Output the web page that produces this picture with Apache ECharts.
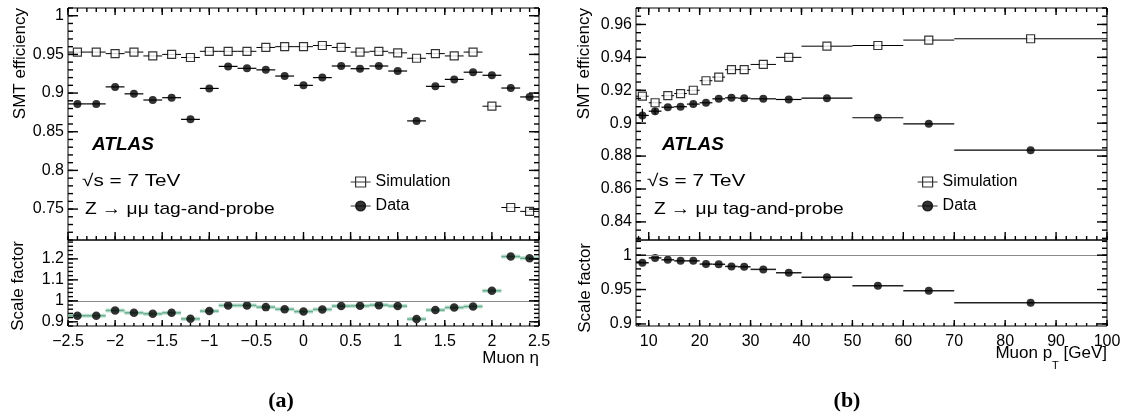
<!DOCTYPE html>
<html>
<head>
<meta charset="utf-8">
<script src="https://cdn.jsdelivr.net/npm/echarts@6/dist/echarts.min.js"></script>
<style>
html, body { margin: 0; padding: 0; background: #fff; }
#main { width: 1126px; height: 417px; }
</style>
</head>
<body>
<div id="main"></div>
<script>
var FONT = '"Liberation Sans", Arial, Helvetica, sans-serif';

// bin edges
var etaEdges = [-2.5, -2.3, -2.1, -1.9, -1.7, -1.5, -1.3, -1.1, -0.9, -0.7, -0.5, -0.3, -0.1,
  0.1, 0.3, 0.5, 0.7, 0.9, 1.1, 1.3, 1.5, 1.7, 1.9, 2.1, 2.3, 2.5];
var ptEdges = [7.5, 10, 12.5, 15, 17.5, 20, 22.5, 25, 27.5, 30, 35, 40, 50, 60, 70, 100];

// (a) SMT efficiency vs muon eta
var etaSim = [0.953, 0.953, 0.951, 0.953, 0.948, 0.950, 0.946, 0.954, 0.954, 0.954, 0.959,
  0.960, 0.960, 0.9615, 0.959, 0.953, 0.954, 0.952, 0.945, 0.951, 0.948, 0.953, 0.883, 0.752, 0.747];
var etaData = [0.886, 0.886, 0.908, 0.899, 0.891, 0.894, 0.866, 0.906, 0.9345, 0.932, 0.930,
  0.922, 0.910, 0.920, 0.935, 0.9315, 0.935, 0.9285, 0.864, 0.9087, 0.9177, 0.927, 0.923, 0.9065, 0.895];
var etaSF = [0.929, 0.929, 0.954, 0.943, 0.938, 0.943, 0.914, 0.951, 0.978, 0.978, 0.970,
  0.960, 0.949, 0.959, 0.975, 0.976, 0.9795, 0.975, 0.913, 0.956, 0.968, 0.973, 1.048, 1.211, 1.203];

// (b) SMT efficiency vs muon pT
var ptSim = [0.9164, 0.9124, 0.9167, 0.918, 0.920, 0.9258, 0.928, 0.9325, 0.9326, 0.9357,
  0.940, 0.9468, 0.9472, 0.9505, 0.9513];
var ptData = [0.9047, 0.9073, 0.9097, 0.910, 0.9116, 0.9124, 0.9148, 0.9154, 0.9152, 0.9148,
  0.9144, 0.9152, 0.9033, 0.8996, 0.8836];
var ptDataErr = [0.004, 0.002, 0, 0, 0, 0, 0, 0, 0, 0, 0, 0, 0, 0, 0];
var ptSF = [0.9889, 0.996, 0.9932, 0.9917, 0.9917, 0.987, 0.9867, 0.9836, 0.9831, 0.9793,
  0.9744, 0.968, 0.9555, 0.9483, 0.9309];

// tick labels
var etaTicks = [-2.5, -2, -1.5, -1, -0.5, 0, 0.5, 1, 1.5, 2, 2.5];
var ptTicks = [10, 20, 30, 40, 50, 60, 70, 80, 90, 100];
var effTicksA = [0.75, 0.8, 0.85, 0.9, 0.95, 1];
var sfTicksA = [0.9, 1, 1.1, 1.2];
var effTicksB = [0.84, 0.86, 0.88, 0.9, 0.92, 0.94, 0.96];
var sfTicksB = [0.9, 0.95, 1];

function steps(a, b, d) {
  var out = [];
  for (var i = 0; a + i * d <= b + 1e-9; i++) out.push(+(a + i * d).toFixed(4));
  return out;
}
function centers(edges) {
  var c = [];
  for (var i = 0; i < edges.length - 1; i++) c.push((edges[i] + edges[i + 1]) / 2);
  return c;
}
function rows(edges, vals, errs) {
  return vals.map(function (v, i) { return [edges[i], edges[i + 1], v, errs ? errs[i] : 0]; });
}
function points(edges, vals) {
  var c = centers(edges);
  return vals.map(function (v, i) { return [c[i], v]; });
}

var grids = [], xAxes = [], yAxes = [];

function panel(box, xr, yr, xTicks, yTicks, xFmt) {
  grids.push(Object.assign({ show: true, borderColor: '#000', borderWidth: 1, backgroundColor: 'transparent', outerBoundsMode: 'none' }, box));
  var g = grids.length - 1;
  xAxes.push({
    type: 'value', gridIndex: g, position: 'bottom', min: xr[0], max: xr[1],
    axisLine: { show: false }, axisTick: { show: false }, splitLine: { show: false },
    axisLabel: xFmt ? { show: true, customValues: xTicks, margin: 8, color: '#000', fontSize: 16, fontFamily: FONT, formatter: xFmt } : { show: false }
  });
  yAxes.push({
    type: 'value', gridIndex: g, position: 'left', min: yr[0], max: yr[1],
    axisLine: { show: false }, axisTick: { show: false }, splitLine: { show: false },
    axisLabel: { show: true, customValues: yTicks, margin: 4, color: '#000', fontSize: 16, fontFamily: FONT }
  });
  return { x: xAxes.length - 1, y: yAxes.length - 1, xr: xr, yr: yr };
}

var minus = function (v) { return String(v).replace('-', '\u2212'); };
var plain = function (v) { return String(v); };

var pA = panel({ left: 68, top: 8, width: 471, height: 232 }, [-2.5, 2.5], [0.71, 1.01], etaTicks, effTicksA, null);
var pAr = panel({ left: 68, top: 240, width: 471, height: 86 }, [-2.5, 2.5], [0.88, 1.29], etaTicks, sfTicksA, minus);
var pB = panel({ left: 636, top: 8, width: 471, height: 232 }, [7.5, 100], [0.829, 0.970], ptTicks, effTicksB, null);
var pBr = panel({ left: 636, top: 240, width: 471, height: 86 }, [7.5, 100], [0.897, 1.022], ptTicks, sfTicksB, plain);

var tickSets = [
  { p: pA, yMaj: effTicksA, yMin: steps(0.71, 1.01, 0.01), xMaj: etaTicks, xMin: steps(-2.5, 2.5, 0.1), xl: [8, 7, 4, 4] },
  { p: pAr, yMaj: sfTicksA, yMin: steps(0.88, 1.28, 0.02), xMaj: etaTicks, xMin: steps(-2.5, 2.5, 0.1), xl: [6, 0, 3, 0] },
  { p: pB, yMaj: effTicksB, yMin: steps(0.83, 0.97, 0.005), xMaj: ptTicks, xMin: steps(8, 100, 2), xl: [8, 7, 4, 4] },
  { p: pBr, yMaj: sfTicksB, yMin: steps(0.9, 1.02, 0.01), xMaj: ptTicks, xMin: steps(8, 100, 2), xl: [6, 0, 3, 0] }
];

function hbar(color, width) {
  return function (params, api) {
    var y = api.value(2), lo = api.value(0), hi = api.value(1), e = api.value(3);
    var p1 = api.coord([lo, y]), p2 = api.coord([hi, y]);
    var kids = [{ type: 'line', shape: { x1: p1[0], y1: p1[1], x2: p2[0], y2: p2[1] }, style: { stroke: color, lineWidth: width } }];
    if (e > 0) {
      var a = api.coord([(lo + hi) / 2, y - e]), b = api.coord([(lo + hi) / 2, y + e]);
      kids.push({ type: 'line', shape: { x1: a[0], y1: a[1], x2: b[0], y2: b[1] }, style: { stroke: color, lineWidth: width } });
    }
    return { type: 'group', children: kids };
  };
}
function band(params, api) {
  var y = api.value(2);
  var p1 = api.coord([api.value(0), y]), p2 = api.coord([api.value(1), y]);
  return { type: 'group', children: [
    { type: 'rect', shape: { x: p1[0], y: p1[1] - 2, width: p2[0] - p1[0], height: 4 }, style: { fill: 'rgba(130,195,165,0.5)' } },
    { type: 'line', shape: { x1: p1[0], y1: p1[1], x2: p2[0], y2: p2[1] }, style: { stroke: '#6aae90', lineWidth: 1.5 } }
  ] };
}
function bars(p, data, render) {
  return { type: 'custom', xAxisIndex: p.x, yAxisIndex: p.y, data: data, renderItem: render,
    encode: { x: [0, 1], y: 2 }, clip: true, silent: true, z: 2 };
}
function marks(p, name, data, sim, size) {
  return { type: 'scatter', name: name, xAxisIndex: p.x, yAxisIndex: p.y, data: data, z: 3, silent: true,
    symbol: sim ? 'rect' : 'circle', symbolSize: size,
    itemStyle: sim ? { color: '#fff', borderColor: '#000', borderWidth: 1.2 } : { color: '#000' } };
}
function unity(s) {
  s.markLine = { silent: true, symbol: ['none', 'none'], label: { show: false },
    lineStyle: { color: '#8a8a8a', width: 1.2, type: 'solid' }, data: [{ yAxis: 1 }] };
  return s;
}

// ROOT-style inward tick marks, one custom series per panel, drawn as rects through the panel's axes
// row: [value, isY, lengthNear, lengthFar]
function tickSeries(t) {
  var p = t.p, data = [];
  t.yMaj.forEach(function (v) { data.push([v, 1, 10, 10]); });
  t.yMin.forEach(function (v) { data.push([v, 1, 5, 5]); });
  t.xMaj.forEach(function (v) { data.push([v, 0, t.xl[0], t.xl[1]]); });
  t.xMin.forEach(function (v) { data.push([v, 0, t.xl[2], t.xl[3]]); });
  return {
    type: 'custom', xAxisIndex: p.x, yAxisIndex: p.y, data: data, clip: false, silent: true, z: 6,
    dimensions: ['v', 'isY', 'ln', 'lf'], encode: { x: 'v', y: 'isY' },
    renderItem: function (params, api) {
      var v = api.value('v'), ln = api.value('ln'), lf = api.value('lf'), kids = [], a, b;
      if (api.value('isY') > 0.5) {
        a = api.coord([p.xr[0], v]); b = api.coord([p.xr[1], v]);
        kids.push({ type: 'rect', shape: { x: a[0], y: a[1] - 0.7, width: ln, height: 1.4 } });
        kids.push({ type: 'rect', shape: { x: b[0] - lf, y: b[1] - 0.7, width: lf, height: 1.4 } });
      } else {
        a = api.coord([v, p.yr[0]]); b = api.coord([v, p.yr[1]]);
        kids.push({ type: 'rect', shape: { x: a[0] - 0.7, y: a[1] - ln, width: 1.4, height: ln } });
        if (lf > 0) kids.push({ type: 'rect', shape: { x: b[0] - 0.7, y: b[1], width: 1.4, height: lf } });
      }
      kids.forEach(function (k) { k.style = { fill: '#000' }; });
      return { type: 'group', children: kids };
    }
  };
}

var series = tickSets.map(tickSeries).concat([
  bars(pA, rows(etaEdges, etaSim), hbar('#000', 1)),
  bars(pA, rows(etaEdges, etaData), hbar('#000', 1.2)),
  marks(pA, 'Simulation', points(etaEdges, etaSim), true, 8),
  marks(pA, 'Data', points(etaEdges, etaData), false, 8),
  bars(pAr, rows(etaEdges, etaSF), band),
  unity(marks(pAr, 'SF eta', points(etaEdges, etaSF), false, 8.5)),
  bars(pB, rows(ptEdges, ptSim), hbar('#000', 1)),
  bars(pB, rows(ptEdges, ptData, ptDataErr), hbar('#000', 1.2)),
  marks(pB, 'Simulation', points(ptEdges, ptSim), true, 8),
  marks(pB, 'Data', points(ptEdges, ptData), false, 8),
  bars(pBr, rows(ptEdges, ptSF), hbar('#222', 1.5)),
  unity(marks(pBr, 'SF pt', points(ptEdges, ptSF), false, 8))
]);

var simIcon = 'path://M0,5L20,5M5,0L15,0L15,10L5,10Z';
var dataIcon = 'path://M0,5L20,5M15,5A5,5,0,1,1,5,5A5,5,0,1,1,15,5Z';
function legendAt(left) {
  return {
    left: left, top: 168, orient: 'vertical', itemWidth: 20, itemHeight: 10, itemGap: 6,
    selectedMode: false,
    textStyle: { color: '#000', fontSize: 16, fontFamily: FONT, lineHeight: 18 },
    data: [
      { name: 'Simulation', icon: simIcon, itemStyle: { color: '#fff', borderColor: '#000', borderWidth: 1.2 } },
      { name: 'Data', icon: dataIcon, itemStyle: { color: '#000', borderColor: '#000', borderWidth: 1.2 } }
    ]
  };
}

function txt(x, y, s, style, extra) {
  return Object.assign({ type: 'text', x: x, y: y, silent: true,
    style: Object.assign({ text: s, fill: '#000', fontFamily: FONT, fontSize: 17, textVerticalAlign: 'middle' }, style || {}) }, extra || {});
}
var atlas = { fontSize: 19, fontWeight: 'bold', fontStyle: 'italic' };
var vert = { rotation: Math.PI / 2 };
var serif = { textAlign: 'center', fontFamily: '"Liberation Serif", "Times New Roman", serif', fontWeight: 'bold', fontSize: 22 };
var graphic = [
  txt(92, 145, 'ATLAS', atlas),
  txt(82, 181, '\u221As = 7 TeV', null, { scaleX: 1.22 }),
  txt(85, 209, 'Z \u2192 \u03bc\u03bc tag-and-probe', null, { scaleX: 1.13 }),
  txt(662, 145, 'ATLAS', atlas),
  txt(647, 181, '\u221As = 7 TeV', null, { scaleX: 1.22 }),
  txt(654, 209, 'Z \u2192 \u03bc\u03bc tag-and-probe', null, { scaleX: 1.13 }),
  txt(20, 8, 'SMT efficiency', { textAlign: 'right' }, vert),
  txt(584, 8, 'SMT efficiency', { textAlign: 'right' }, vert),
  txt(18, 241, 'Scale factor', { textAlign: 'right' }, vert),
  txt(585, 243, 'Scale factor', { textAlign: 'right' }, vert),
  txt(539, 358, 'Muon \u03b7', { textAlign: 'right' }),
  txt(1107, 345, '{n|Muon p}{s|T}{n| [GeV]}', {
    textAlign: 'right', textVerticalAlign: 'top',
    rich: {
      n: { fontSize: 17, fontFamily: FONT, lineHeight: 20, verticalAlign: 'top' },
      s: { fontSize: 11, fontFamily: FONT, lineHeight: 12, verticalAlign: 'top', padding: [15, 0, 0, 0] }
    }
  }),
  txt(281, 401, '(a)', serif),
  txt(847, 401, '(b)', serif)
];

var myChart = echarts.init(document.getElementById('main'));
option = {
  animation: false,
  backgroundColor: '#fff',
  grid: grids,
  xAxis: xAxes,
  yAxis: yAxes,
  legend: [legendAt(345), legendAt(912)],
  graphic: graphic,
  series: series
};
myChart.setOption(option);
</script>
</body>
</html>
